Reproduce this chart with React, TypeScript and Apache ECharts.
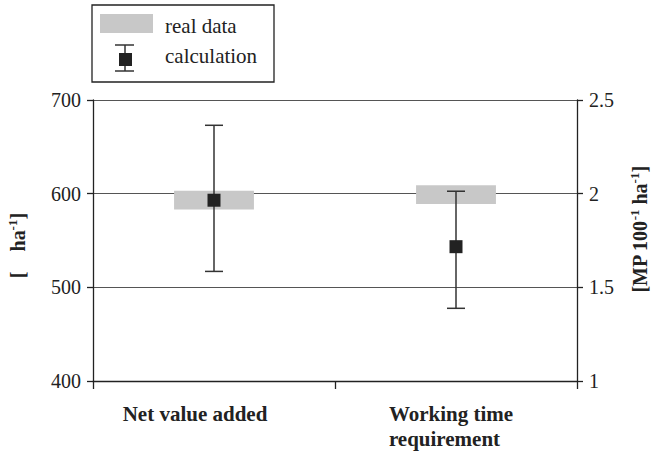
import React, { useEffect, useRef } from "react";
import * as echarts from "echarts";

const categories = ["Net value added", "Working time\nrequirement"];
// real data range (index 0 on left axis, index 1 on right axis)
const realLow = [583, 1.945];
const realHigh = [603, 2.045];
// calculation mean and error range
const calcMean = [593, 1.717];
const calcLow = [517, 1.388];
const calcHigh = [673, 2.013];

const leftTicks = { min: 400, max: 700, interval: 100 };
const rightTicks = { min: 1, max: 2.5, interval: 0.5 };

const FONT = "serif";
const INK = "#222";

function realItem(params: any, api: any) {
  const x = api.value(0);
  const top = api.coord([x, api.value(2)]);
  const bot = api.coord([x, api.value(1)]);
  const w = api.size([1, 0])[0] * 0.33;
  return {
    type: "rect",
    shape: { x: top[0] - w / 2, y: top[1], width: w, height: bot[1] - top[1] },
    style: { fill: "#c8c8c8" },
  };
}

function calcItem(params: any, api: any) {
  const x = api.value(0);
  const m = api.coord([x, api.value(1)]);
  const lo = api.coord([x, api.value(2)]);
  const hi = api.coord([x, api.value(3)]);
  const cap = 9;
  const s = 6.5;
  const ls = { stroke: "#333", lineWidth: 1.5 };
  return {
    type: "group",
    children: [
      { type: "line", shape: { x1: m[0], y1: hi[1], x2: m[0], y2: lo[1] }, style: ls },
      { type: "line", shape: { x1: m[0] - cap, y1: hi[1], x2: m[0] + cap, y2: hi[1] }, style: ls },
      { type: "line", shape: { x1: m[0] - cap, y1: lo[1], x2: m[0] + cap, y2: lo[1] }, style: ls },
      { type: "rect", shape: { x: m[0] - s, y: m[1] - s, width: 2 * s, height: 2 * s }, style: { fill: INK } },
    ],
  };
}

const nameBase = { fontFamily: FONT, fontWeight: "bold", fontSize: 20, color: INK };
const supBase = { fontFamily: FONT, fontWeight: "bold", fontSize: 13, color: INK, padding: [0, 0, 10, 0] };
const nameRichLeft = { b: nameBase, s: supBase, e: { ...nameBase, padding: [0, 10, 0, 0] } };
const nameRichRight = { f: { ...nameBase, padding: [0, 0, 0, 22] }, b: nameBase, s: supBase };

const catLabel = { fontFamily: FONT, fontWeight: "bold", fontSize: 21, color: INK, align: "left", lineHeight: 25 };

export default function App() {
  const ref = useRef<HTMLDivElement>(null);
  useEffect(() => {
    document.body.style.margin = "0";
    const chart = echarts.init(ref.current!, null, { renderer: "svg" });
    const option: any = {
      animation: false,
      backgroundColor: "#fff",
      textStyle: { fontFamily: FONT },
      grid: { left: 93, right: 76, top: 100, bottom: 70, containLabel: false, outerBoundsMode: "none" },
      xAxis: {
        type: "category",
        data: categories,
        boundaryGap: true,
        axisLine: { lineStyle: { color: INK, width: 1.3 } },
        axisTick: { show: true, length: 8, lineStyle: { color: INK, width: 1.3 } },
        axisLabel: {
          margin: 20,
          formatter: (v: string, i: number) =>
            v.split("\n").map((l) => `{${i === 0 ? "n" : "a"}|${l}}`).join("\n"),
          rich: {
            n: { ...catLabel, padding: [0, 38, 0, 0] },
            a: { ...catLabel, padding: [0, 10, 0, 0] },
          },
        },
      },
      yAxis: [
        {
          type: "value",
          position: "left",
          ...leftTicks,
          axisLine: { show: true, lineStyle: { color: INK, width: 1.3 } },
          axisTick: { show: true, length: 6, lineStyle: { color: INK, width: 1.3 } },
          splitLine: { show: true, lineStyle: { color: "#555", width: 1.2 } },
          axisLabel: { fontFamily: FONT, fontSize: 20, color: INK, margin: 12 },
          name: "{b|[    ha}{s|-1}{e|]}",
          nameLocation: "middle",
          nameRotate: 90,
          nameGap: 64,
          nameTextStyle: { rich: nameRichLeft },
        },
        {
          type: "value",
          position: "right",
          ...rightTicks,
          axisLine: { show: true, lineStyle: { color: INK, width: 1.3 } },
          axisTick: { show: true, length: 6, lineStyle: { color: INK, width: 1.3 } },
          splitLine: { show: false },
          axisLabel: { fontFamily: FONT, fontSize: 20, color: INK, margin: 12 },
          name: "{f|[MP 100}{s|-1}{b| ha}{s|-1}{b|]}",
          nameLocation: "middle",
          nameRotate: 90,
          nameGap: 51,
          nameTextStyle: { rich: nameRichRight },
        },
      ],
      series: [
        {
          type: "custom",
          name: "real data",
          yAxisIndex: 0,
          z: 2,
          renderItem: realItem,
          encode: { x: 0, y: [1, 2] },
          data: [[0, realLow[0], realHigh[0]]],
        },
        {
          type: "custom",
          name: "real data",
          yAxisIndex: 1,
          z: 2,
          renderItem: realItem,
          encode: { x: 0, y: [1, 2] },
          data: [[1, realLow[1], realHigh[1]]],
        },
        {
          type: "custom",
          name: "calculation",
          yAxisIndex: 0,
          z: 3,
          renderItem: calcItem,
          encode: { x: 0, y: [1, 2, 3] },
          data: [[0, calcMean[0], calcLow[0], calcHigh[0]]],
        },
        {
          type: "custom",
          name: "calculation",
          yAxisIndex: 1,
          z: 3,
          renderItem: calcItem,
          encode: { x: 0, y: [1, 2, 3] },
          data: [[1, calcMean[1], calcLow[1], calcHigh[1]]],
        },
      ],
      graphic: [
        {
          type: "rect",
          shape: { x: 92, y: 5, width: 182, height: 77 },
          style: { fill: "#fff", stroke: INK, lineWidth: 1.3 },
        },
        { type: "rect", shape: { x: 100, y: 14, width: 53, height: 19 }, style: { fill: "#c8c8c8" } },
        {
          type: "text",
          x: 165,
          y: 26,
          style: { text: "real data", fontFamily: FONT, fontSize: 21, fill: INK, verticalAlign: "middle" },
        },
        { type: "line", shape: { x1: 125, y1: 45, x2: 125, y2: 71 }, style: { stroke: "#333", lineWidth: 1.5 } },
        { type: "line", shape: { x1: 115, y1: 45, x2: 134, y2: 45 }, style: { stroke: "#333", lineWidth: 1.5 } },
        { type: "line", shape: { x1: 115, y1: 71, x2: 134, y2: 71 }, style: { stroke: "#333", lineWidth: 1.5 } },
        { type: "rect", shape: { x: 119, y: 53, width: 13, height: 13 }, style: { fill: INK } },
        {
          type: "text",
          x: 165,
          y: 56,
          style: { text: "calculation", fontFamily: FONT, fontSize: 21, fill: INK, verticalAlign: "middle" },
        },
      ],
    };
    chart.setOption(option);
    return () => chart.dispose();
  }, []);
  return <div ref={ref} style={{ width: 653, height: 451 }} />;
}
